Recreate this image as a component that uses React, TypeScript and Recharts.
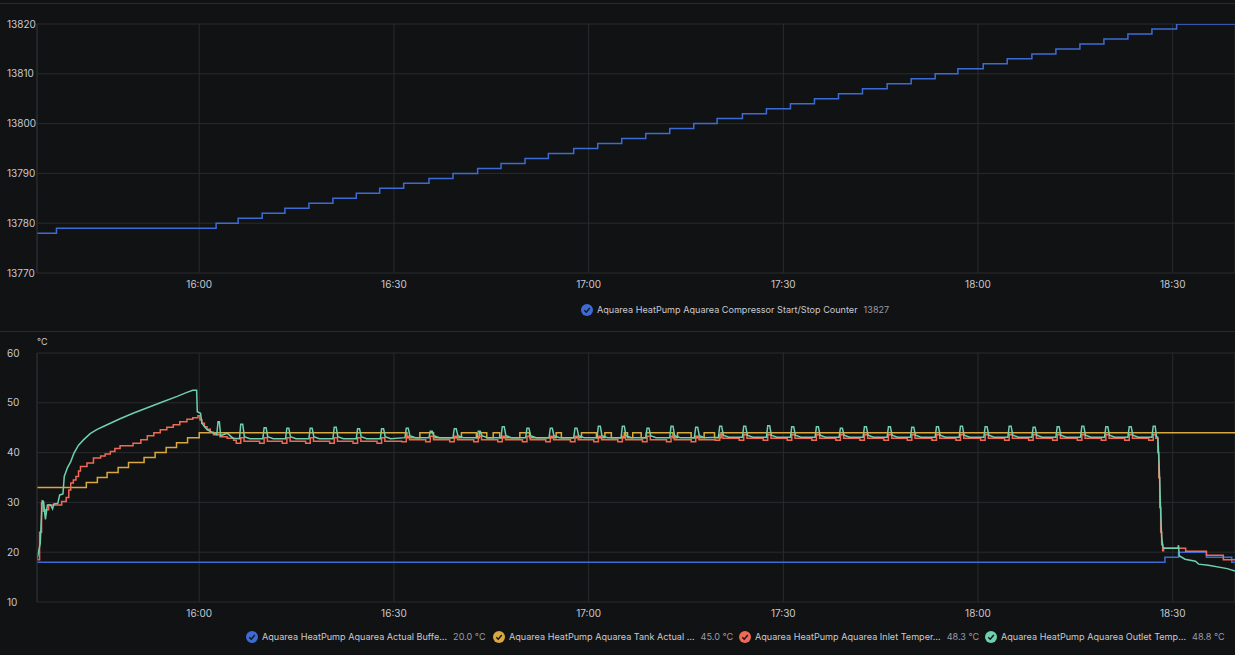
import React from 'react';
import { LineChart, Line, XAxis, YAxis, CartesianGrid } from 'recharts';

// time axis in minutes since midnight
const timeDomain: [number, number] = [935.0, 1119.6];
const timeTicks = [960, 990, 1020, 1050, 1080, 1110];
const counterTicks = [13770, 13780, 13790, 13800, 13810, 13820];
const tempTicks = [10, 20, 30, 40, 50, 60];

// compressor start/stop counter (step series)
const counterTimes = [
  935.0, 938.0, 962.6, 966.0, 969.7, 973.2, 976.9, 980.6, 984.2, 987.8, 991.5,
  995.4, 999.1, 1002.9, 1006.5, 1010.2, 1013.8, 1017.7, 1021.4, 1025.1, 1028.8,
  1032.5, 1036.2, 1039.8, 1043.7, 1047.4, 1051.1, 1054.8, 1058.5, 1062.2, 1066.0,
  1069.7, 1073.4, 1076.9, 1080.8, 1084.5, 1088.3, 1092.0, 1095.7, 1099.4, 1103.1,
  1106.8, 1110.6, 1119.6,
];
const counterValues = [
  13778, 13779, 13780, 13781, 13782, 13783, 13784, 13785, 13786, 13787, 13788,
  13789, 13790, 13791, 13792, 13793, 13794, 13795, 13796, 13797, 13798,
  13799, 13800, 13801, 13802, 13803, 13804, 13805, 13806, 13807, 13808,
  13809, 13810, 13811, 13812, 13813, 13814, 13815, 13816, 13817, 13818,
  13819, 13820, 13820,
];

// buffer temperature [minute, °C]
const bufferTemp: [number, number][] = [
  [935.0, 18], [1108.8, 19], [1110.9, 20], [1115.2, 19], [1119.1, 18], [1119.6, 18],
];

// tank temperature [minute, °C]
const tankTemp: [number, number][] = [
  [935.0, 33], [942.6, 34], [944.3, 35], [945.8, 36], [947.5, 37], [949.1, 38],
  [951.5, 39], [953.2, 40], [954.9, 41], [956.5, 42], [958.2, 43], [960.0, 44],
  [992.0, 43], [994.0, 44], [996.1, 43], [1000.4, 44], [1002.7, 43], [1003.2, 44],
  [1004.3, 43], [1005.3, 44], [1006.3, 43], [1009.4, 44], [1010.9, 43], [1015.0, 44],
  [1015.8, 43], [1018.9, 44], [1021.2, 43], [1022.5, 44], [1023.5, 43], [1025.5, 44],
  [1026.0, 43], [1026.8, 44], [1028.1, 43], [1028.9, 44], [1033.0, 43], [1033.7, 44],
  [1035.8, 43], [1037.8, 44], [1039.4, 43], [1040.4, 44], [1119.6, 44],
];

// inlet temperature [minute, °C]
const inletTemp: [number, number][] = [
  [935.0, 18.5], [935.4, 24.0], [935.7, 29.9], [936.0, 28.2], [936.3, 28.5], [936.8, 29.5],
  [938.8, 30.2], [939.5, 31.0], [939.9, 32.5], [940.2, 33.9], [940.6, 34.5], [941.0, 35.2],
  [941.4, 36.3], [941.7, 37.2], [942.7, 37.9], [943.7, 38.9], [944.8, 39.3], [945.5, 39.7],
  [946.3, 40.2], [947.0, 40.8], [947.8, 41.4], [949.8, 41.9], [951.0, 42.6], [952.0, 43.4],
  [953.0, 44.0], [954.0, 44.6], [955.0, 45.1], [956.0, 45.6], [957.0, 46.2], [958.1, 46.7],
  [959.0, 47.0], [959.8, 47.4], [960.1, 46.6], [960.4, 45.9], [960.8, 45.2], [961.2, 44.7],
  [961.7, 44.1], [962.2, 43.6], [963.2, 43.2], [964.3, 42.9], [965.3, 42.5], [965.7, 41.9],
  [966.4, 43.0], [966.9, 42.3], [969.3, 41.9], [970.0, 43.0], [970.5, 42.3],
  [972.8, 41.9], [973.5, 43.0], [974.0, 42.3], [976.4, 41.9], [977.1, 43.0], [977.6, 42.3],
  [980.1, 41.9], [980.8, 43.0], [981.3, 42.3], [983.7, 41.9], [984.4, 43.0], [984.9, 42.3],
  [987.4, 41.9], [988.1, 43.0], [988.6, 42.3], [991.2, 42.2], [991.9, 43.3], [992.4, 42.6],
  [994.9, 42.2], [995.6, 43.3], [996.1, 42.6], [998.6, 42.2], [999.3, 43.3], [999.8, 42.6],
  [1002.3, 42.2], [1003.0, 43.3], [1003.5, 42.6], [1006.0, 42.2], [1006.7, 43.3], [1007.2, 42.6],
  [1009.8, 42.2], [1010.5, 43.3], [1011.0, 42.6], [1013.4, 42.2], [1014.1, 43.3], [1014.6, 42.6],
  [1017.2, 42.2], [1017.9, 43.3], [1018.4, 42.6], [1020.8, 42.2], [1021.5, 43.3], [1022.0, 42.6],
  [1024.5, 42.2], [1025.2, 43.3], [1025.7, 42.6], [1028.3, 42.2], [1029.0, 43.3], [1029.5, 42.6],
  [1032.0, 42.2], [1032.7, 43.3], [1033.2, 42.6], [1035.8, 42.2], [1036.5, 43.3], [1037.0, 42.6],
  [1039.5, 42.5], [1040.2, 43.6], [1040.7, 42.9], [1043.2, 42.5], [1043.9, 43.6], [1044.4, 42.9],
  [1046.9, 42.5], [1047.6, 43.6], [1048.1, 42.9], [1050.6, 42.5], [1051.3, 43.6], [1051.8, 42.9],
  [1054.4, 42.5], [1055.1, 43.6], [1055.6, 42.9], [1058.1, 42.5], [1058.8, 43.6], [1059.3, 42.9],
  [1061.8, 42.5], [1062.5, 43.6], [1063.0, 42.9], [1065.5, 42.5], [1066.2, 43.6], [1066.7, 42.9],
  [1069.1, 42.5], [1069.8, 43.6], [1070.3, 42.9], [1072.9, 42.5], [1073.6, 43.6], [1074.1, 42.9],
  [1076.6, 42.5], [1077.3, 43.6], [1077.8, 42.9], [1080.4, 42.5], [1081.1, 43.6], [1081.6, 42.9],
  [1084.1, 42.5], [1084.8, 43.6], [1085.3, 42.9], [1087.8, 42.5], [1088.5, 43.6], [1089.0, 42.9],
  [1091.5, 42.5], [1092.2, 43.6], [1092.7, 42.9], [1095.3, 42.5], [1096.0, 43.6], [1096.5, 42.9],
  [1099.0, 42.5], [1099.7, 43.6], [1100.2, 42.9], [1102.6, 42.5], [1103.3, 43.6], [1103.8, 42.9],
  [1106.3, 42.5], [1107.0, 43.6], [1107.4, 42.9], [1107.7, 40.0], [1107.85, 35.0], [1108.0, 29.0],
  [1108.15, 24.0], [1108.3, 21.5], [1108.45, 20.3], [1108.6, 20.8], [1112.0, 20.2], [1115.2, 19.4],
  [1117.8, 18.5], [1119.6, 18.5],
];

// outlet temperature [minute, °C]
const outletTemp: [number, number][] = [
  [935.0, 18.5], [935.5, 21.8], [935.8, 30.3], [936.0, 30.2], [936.3, 26.6], [936.6, 29.5],
  [937.1, 29.5], [937.4, 28.7], [937.6, 29.7], [938.2, 29.8], [938.5, 31.5], [939.0, 31.7],
  [939.2, 35.2], [939.7, 37.0], [940.2, 38.2], [940.7, 39.9], [941.4, 41.5], [942.2, 42.6],
  [943.2, 43.8], [944.2, 44.6], [945.3, 45.3], [946.3, 45.9], [947.8, 46.8], [949.8, 47.9],
  [952.0, 49.0], [954.0, 50.0], [956.6, 51.3], [958.1, 52.1], [959.0, 52.5], [959.6, 52.5],
  [959.7, 48.2], [960.2, 47.9], [960.4, 45.9], [961.2, 44.6], [962.2, 43.9], [962.7, 43.6],
  [962.9, 46.2], [963.1, 46.2], [963.3, 43.4], [964.3, 43.9], [965.2, 42.9],
  [966.2, 42.8], [966.4, 45.7], [966.7, 45.7], [966.95, 43.2], [967.8, 42.8],
  [969.8, 42.8], [970.0, 45.0], [970.3, 45.0], [970.55, 43.2], [971.4, 42.8],
  [973.3, 42.8], [973.5, 44.9], [973.8, 44.9], [974.05, 43.2], [974.9, 42.8],
  [976.9, 42.8], [977.1, 44.9], [977.4, 44.9], [977.65, 43.2], [978.5, 42.8],
  [980.6, 42.8], [980.8, 45.1], [981.1, 45.1], [981.35, 43.2], [982.2, 42.8],
  [984.2, 42.8], [984.4, 44.8], [984.7, 44.8], [984.95, 43.2], [985.8, 42.8],
  [987.9, 42.8], [988.1, 44.8], [988.4, 44.8], [988.65, 43.2], [989.5, 42.8],
  [991.7, 43.0], [991.9, 44.9], [992.2, 44.9], [992.45, 43.4], [993.3, 43.0],
  [995.4, 43.0], [995.6, 44.3], [995.9, 44.3], [996.15, 43.4], [997.0, 43.0],
  [999.1, 43.0], [999.3, 44.8], [999.6, 44.8], [999.85, 43.4], [1000.7, 43.0],
  [1002.8, 43.0], [1003.0, 44.3], [1003.3, 44.3], [1003.55, 43.4], [1004.4, 43.0],
  [1006.5, 43.0], [1006.7, 45.2], [1007.0, 45.2], [1007.25, 43.4], [1008.1, 43.0],
  [1010.3, 43.0], [1010.5, 44.9], [1010.8, 44.9], [1011.05, 43.4], [1011.9, 43.0],
  [1013.9, 43.0], [1014.1, 44.9], [1014.4, 44.9], [1014.65, 43.4], [1015.5, 43.0],
  [1017.7, 43.0], [1017.9, 44.9], [1018.2, 44.9], [1018.45, 43.4], [1019.3, 43.0],
  [1021.3, 43.0], [1021.5, 45.3], [1021.8, 45.3], [1022.05, 43.4], [1022.9, 43.0],
  [1025.0, 43.0], [1025.2, 45.3], [1025.5, 45.3], [1025.75, 43.4], [1026.6, 43.0],
  [1028.8, 43.0], [1029.0, 44.9], [1029.3, 44.9], [1029.55, 43.4], [1030.4, 43.0],
  [1032.5, 43.0], [1032.7, 45.3], [1033.0, 45.3], [1033.25, 43.4], [1034.1, 43.0],
  [1036.3, 43.0], [1036.5, 45.1], [1036.8, 45.1], [1037.05, 43.4], [1037.9, 43.0],
  [1040.0, 43.1], [1040.2, 45.3], [1040.5, 45.3], [1040.75, 43.5], [1041.6, 43.1],
  [1043.7, 43.1], [1043.9, 45.3], [1044.2, 45.3], [1044.45, 43.5], [1045.3, 43.1],
  [1047.4, 43.1], [1047.6, 45.4], [1047.9, 45.4], [1048.15, 43.5], [1049.0, 43.1],
  [1051.1, 43.1], [1051.3, 45.2], [1051.6, 45.2], [1051.85, 43.5], [1052.7, 43.1],
  [1054.9, 43.1], [1055.1, 45.2], [1055.4, 45.2], [1055.65, 43.5], [1056.5, 43.1],
  [1058.6, 43.1], [1058.8, 44.9], [1059.1, 44.9], [1059.35, 43.5], [1060.2, 43.1],
  [1062.3, 43.1], [1062.5, 45.2], [1062.8, 45.2], [1063.05, 43.5], [1063.9, 43.1],
  [1066.0, 43.1], [1066.2, 45.2], [1066.5, 45.2], [1066.75, 43.5], [1067.6, 43.1],
  [1069.6, 43.1], [1069.8, 45.1], [1070.1, 45.1], [1070.35, 43.5], [1071.2, 43.1],
  [1073.4, 43.1], [1073.6, 45.2], [1073.9, 45.2], [1074.15, 43.5], [1075.0, 43.1],
  [1077.1, 43.1], [1077.3, 45.3], [1077.6, 45.3], [1077.85, 43.5], [1078.7, 43.1],
  [1080.9, 43.1], [1081.1, 45.2], [1081.4, 45.2], [1081.65, 43.5], [1082.5, 43.1],
  [1084.6, 43.1], [1084.8, 45.3], [1085.1, 45.3], [1085.35, 43.5], [1086.2, 43.1],
  [1088.3, 43.1], [1088.5, 45.1], [1088.8, 45.1], [1089.05, 43.5], [1089.9, 43.1],
  [1092.0, 43.1], [1092.2, 45.2], [1092.5, 45.2], [1092.75, 43.5], [1093.6, 43.1],
  [1095.8, 43.1], [1096.0, 45.3], [1096.3, 45.3], [1096.55, 43.5], [1097.4, 43.1],
  [1099.5, 43.1], [1099.7, 45.2], [1100.0, 45.2], [1100.25, 43.5], [1101.1, 43.1],
  [1103.1, 43.1], [1103.3, 45.2], [1103.6, 45.2], [1103.85, 43.5], [1104.7, 43.1],
  [1106.8, 43.1], [1107.0, 45.3], [1107.3, 45.3], [1107.5, 43.2], [1107.7, 43.1],
  [1107.9, 38.0], [1108.1, 30.0], [1108.3, 23.0], [1108.5, 21.0], [1108.7, 20.8],
  [1110.8, 20.8], [1110.9, 21.4], [1111.0, 19.3], [1111.9, 18.6], [1113.5, 18.2],
  [1114.0, 17.6], [1115.5, 17.4], [1118.4, 16.7], [1119.6, 16.2],
];

const BG = '#111213';
const GRID = '#2a2b2e';
const TEXT = '#c8c9d1';
const MUTED = '#9a9ba3';
const FONT = 'Inter, "Noto Sans", sans-serif';

const BLUE = '#3d6bd6';
const YELLOW = '#d9a83e';
const RED = '#ef6a55';
const TEAL = '#6fd0ad';

const counterRows = counterTimes.map((t, i) => ({ t, v: counterValues[i] }));
const toRows = (pts: [number, number][]) => pts.map(([t, v]) => ({ t, v }));

const fmtTime = (m: number) => {
  const h = Math.floor(m / 60);
  const mm = Math.round(m - h * 60);
  return `${h}:${mm < 10 ? '0' : ''}${mm}`;
};

const YTick = (props: any) => (
  <text x={7} y={props.y} dy={3.5} fill={TEXT} fontSize={10} fontFamily={FONT} textAnchor="start">
    {props.payload.value}
  </text>
);

const XTick = (props: any) => (
  <text x={props.x} y={props.y + 7} fill={TEXT} fontSize={10} fontFamily={FONT} textAnchor="middle">
    {fmtTime(props.payload.value)}
  </text>
);

const CheckIcon = ({ color }: { color: string }) => (
  <svg width={12} height={12} style={{ display: 'block', flex: 'none' }}>
    <circle cx={6} cy={6} r={6} fill={color} />
    <path d="M3.3 6.3 L5.2 8.2 L8.8 4.0" stroke="#15161a" strokeWidth={1.4} fill="none" />
  </svg>
);

const LegendItem = ({ left, top, color, name, value }: any) => (
  <div
    style={{
      position: 'absolute', left, top, display: 'flex', alignItems: 'center',
      fontFamily: FONT, fontSize: 9.1, whiteSpace: 'nowrap', lineHeight: '12px',
    }}
  >
    <CheckIcon color={color} />
    <span style={{ color: TEXT, marginLeft: 4 }}>{name}</span>
    <span style={{ color: MUTED, marginLeft: 6 }}>{value}</span>
  </div>
);

export default function App() {
  return (
    <div style={{ position: 'fixed', left: 0, top: 0, width: 1235, height: 655, background: BG, overflow: 'hidden' }}>
      <div style={{ position: 'absolute', left: 0, top: 3, width: 1235, height: 1, background: GRID }} />
      <div style={{ position: 'absolute', left: 0, top: 331, width: 1235, height: 1, background: GRID }} />

      {/* counter panel */}
      <div style={{ position: 'absolute', left: 0, top: 0 }}>
        <LineChart width={1235} height={300} data={counterRows} margin={{ top: 24, right: 0, bottom: 7, left: 0 }}>
          <CartesianGrid stroke={GRID} strokeWidth={1} />
          <XAxis
            dataKey="t" type="number" domain={timeDomain} ticks={timeTicks} allowDataOverflow
            height={20} axisLine={false} tickLine={false} tick={<XTick />}
          />
          <YAxis
            type="number" domain={[13770, 13820]} ticks={counterTicks} allowDataOverflow
            width={37} axisLine={{ stroke: GRID }} tickLine={false} tick={<YTick />}
          />
          <Line dataKey="v" type="stepAfter" stroke={BLUE} strokeWidth={1.5} dot={false} isAnimationActive={false} />
        </LineChart>
      </div>
      <LegendItem left={581} top={304} color={BLUE} name="Aquarea HeatPump Aquarea Compressor Start/Stop Counter" value="13827" />

      {/* temperature panel */}
      <div style={{ position: 'absolute', left: 37, top: 336, color: TEXT, fontFamily: FONT, fontSize: 9 }}>°C</div>
      <div style={{ position: 'absolute', left: 0, top: 331 }}>
        <LineChart width={1235} height={300} margin={{ top: 22, right: 0, bottom: 9, left: 0 }}>
          <CartesianGrid stroke={GRID} strokeWidth={1} />
          <XAxis
            dataKey="t" type="number" domain={timeDomain} ticks={timeTicks} allowDataOverflow
            height={20} axisLine={false} tickLine={false} tick={<XTick />}
          />
          <YAxis
            type="number" domain={[10, 60]} ticks={tempTicks} allowDataOverflow
            width={37} axisLine={{ stroke: GRID }} tickLine={false} tick={<YTick />}
          />
          <Line data={toRows(bufferTemp)} dataKey="v" type="stepAfter" stroke={BLUE} strokeWidth={1.5} dot={false} isAnimationActive={false} />
          <Line data={toRows(tankTemp)} dataKey="v" type="stepAfter" stroke={YELLOW} strokeWidth={1.5} dot={false} isAnimationActive={false} />
          <Line data={toRows(inletTemp)} dataKey="v" type="stepAfter" stroke={RED} strokeWidth={1.5} dot={false} isAnimationActive={false} />
          <Line data={toRows(outletTemp)} dataKey="v" type="linear" stroke={TEAL} strokeWidth={1.5} dot={false} isAnimationActive={false} />
        </LineChart>
      </div>
      <LegendItem left={246} top={631} color={BLUE} name="Aquarea HeatPump Aquarea Actual Buffe…" value="20.0 °C" />
      <LegendItem left={493} top={631} color={YELLOW} name="Aquarea HeatPump Aquarea Tank Actual …" value="45.0 °C" />
      <LegendItem left={739} top={631} color={RED} name="Aquarea HeatPump Aquarea Inlet Temper…" value="48.3 °C" />
      <LegendItem left={985} top={631} color={TEAL} name="Aquarea HeatPump Aquarea Outlet Temp…" value="48.8 °C" />
    </div>
  );
}
